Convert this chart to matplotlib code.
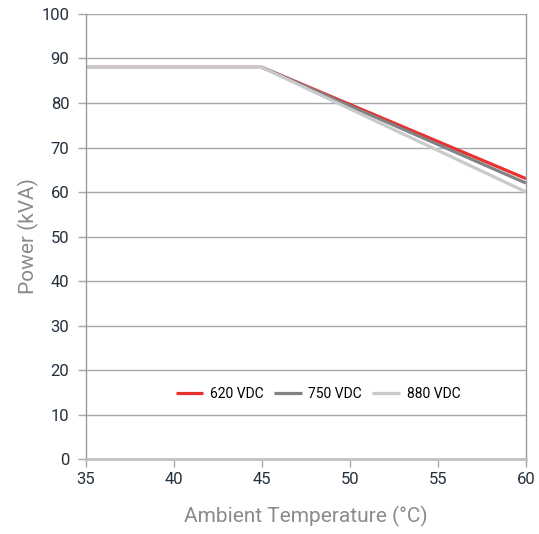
import matplotlib
matplotlib.use('Agg')
from matplotlib import pyplot as plt

# derating curves
temps = [35, 45, 60]
p620 = [88, 88, 63]
p750 = [88, 88, 62]
p880 = [88, 88, 60]
labels = ['620 VDC', '750 VDC', '880 VDC']
colors = ['#e8302e', '#818285', '#c9cacc']

plt.rcParams['font.family'] = ['Roboto', 'DejaVu Sans']

fig = plt.figure(figsize=(5.39, 5.34), dpi=100)
ax = fig.add_axes([0.1596, 0.1404, 0.8163, 0.8334])

for vals, lab, col in zip([p620, p750, p880], labels, colors):
    ax.plot(temps, vals, color=col, lw=2.3, label=lab, solid_capstyle='butt')

ax.set_xlim(35, 60)
ax.set_ylim(0, 100)
ax.set_xticks(range(35, 61, 5))
ax.set_yticks(range(0, 101, 10))
ax.grid(axis='y', color='#a7a8ab', lw=1.0)
ax.set_axisbelow(True)

for s in ['left', 'right']:
    ax.spines[s].set_color('#9a9b9e')
    ax.spines[s].set_linewidth(1.0)
ax.spines['top'].set_visible(False)
ax.spines['bottom'].set_color('#c0c1c3')
ax.spines['bottom'].set_linewidth(2)

ax.tick_params(axis='y', length=6, width=1, color='#a7a8ab', labelsize=12,
               labelcolor='#25303d', pad=6)
ax.tick_params(axis='x', length=6, width=1, color='#a7a8ab', labelsize=12,
               labelcolor='#25303d', pad=3)

ax.set_xlabel('Ambient Temperature (°C)', fontsize=15, color='#8a8b8e', labelpad=14)
ax.set_ylabel('Power (kVA)', fontsize=15, color='#8a8b8e', labelpad=2)

ax.legend(loc='center', bbox_to_anchor=(0.527, 0.146), ncol=3, frameon=False,
          fontsize=10, handlelength=2.0, columnspacing=0.7, handletextpad=0.5)

plt.savefig('out.png', dpi=100)
